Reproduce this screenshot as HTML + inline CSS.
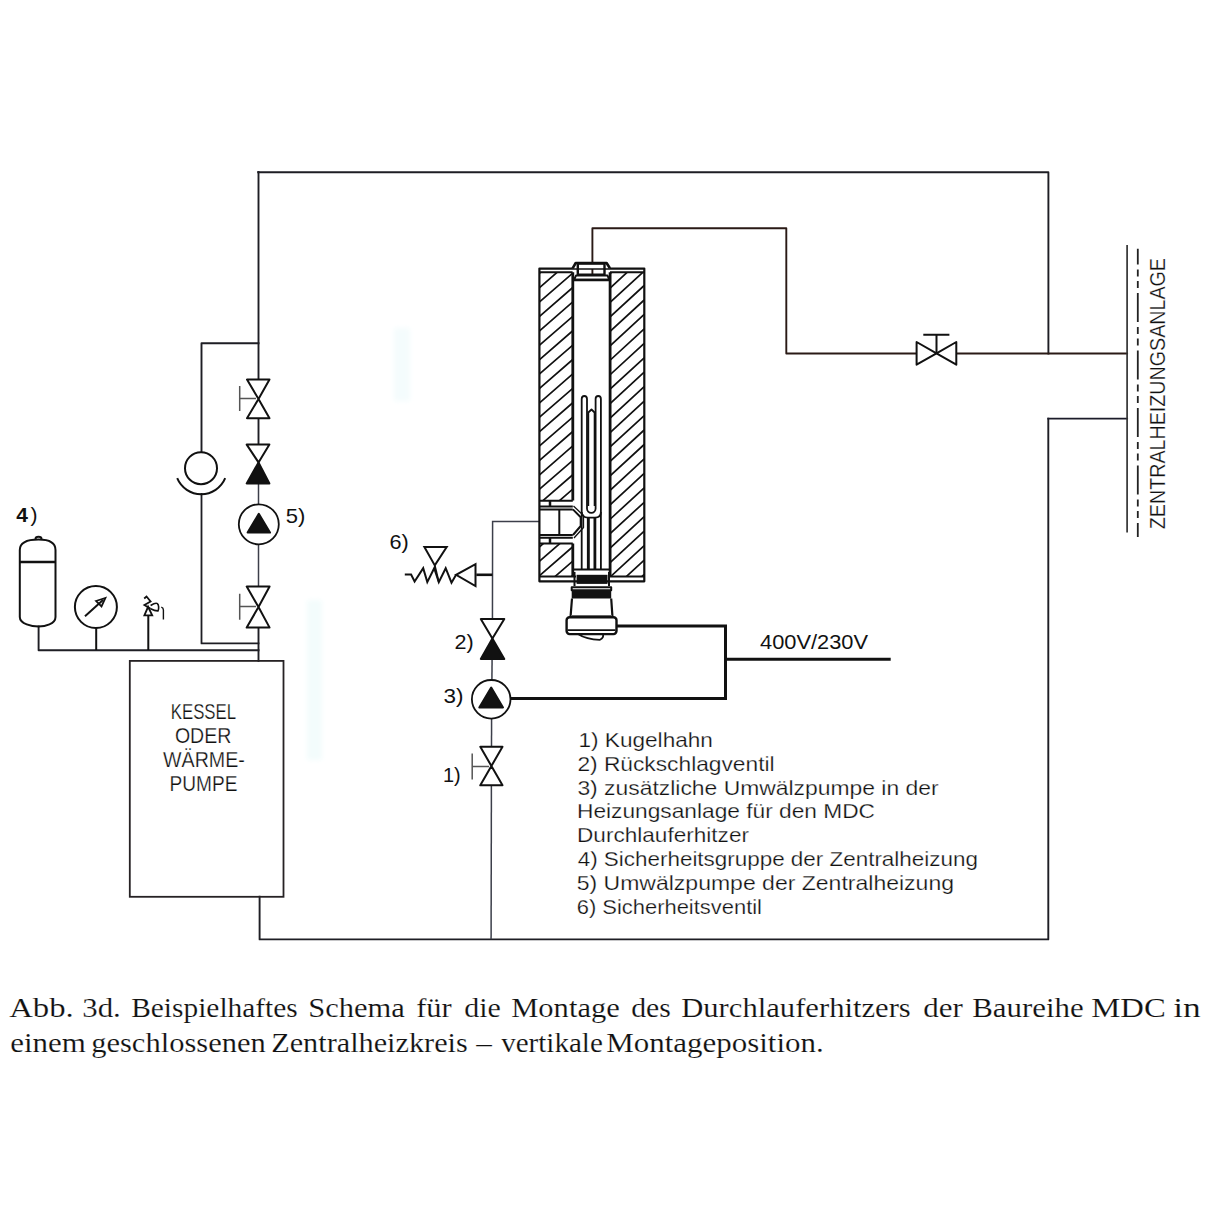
<!DOCTYPE html>
<html><head><meta charset="utf-8">
<style>
html,body{margin:0;padding:0;background:#fff;}
svg{display:block;}
text{font-family:"Liberation Sans",sans-serif;fill:#111;}
.sf{font-family:"Liberation Serif",serif;}
</style></head><body>
<svg width="1214" height="1214" viewBox="0 0 1214 1214">
<defs>
<pattern id="hatchL" patternUnits="userSpaceOnUse" width="14.6" height="14.6" patternTransform="translate(572.8,386.3) rotate(-45)">
<line x1="0" y1="0" x2="30" y2="0" stroke="#111" stroke-width="2.4"/>
</pattern>
</defs>
<rect width="1214" height="1214" fill="#fff"/>
<filter id="bl" x="-50%" y="-20%" width="200%" height="140%"><feGaussianBlur stdDeviation="2.5"/></filter>
<rect x="307" y="600" width="15" height="160" fill="#f3fcfc" filter="url(#bl)"/>
<rect x="394" y="328" width="16" height="73" fill="#f4fcfd" filter="url(#bl)"/>

<!-- ===== main piping ===== -->
<g fill="none" stroke="#1e1e24" stroke-width="1.9" stroke-linecap="square" stroke-linejoin="round">
<path d="M258.2,172.3 L1048.4,172.2 V353.5"/>
<path d="M1048.3,418.6 V939.4 H259.6 V896.8"/>
<path d="M258.5,172 V379.6"/>
<path d="M258.5,418.2 V444.6"/>
<path d="M258.5,627.6 V660.9"/>
<!-- bypass -->
<path d="M258.5,343.3 H201.5 V452"/>
<path d="M201.5,494 V643.4 H258.5" stroke-width="1.8"/>
<path d="M38.6,626.5 V650.2 H258.5"/>
<!-- right side -->
<path d="M592.4,274.7 V228.2 H786.3 V353.5 H916.6" stroke="#2a1a16"/>
<path d="M956.3,353.5 H1127.1" stroke="#2a1a16"/>
<path d="M1048.3,418.6 H1127.1" stroke="#1c1c2a"/>
</g>
<g fill="none" stroke="#3c3f4a" stroke-width="1.5">
<path d="M258.5,483.5 V504.2"/>
<path d="M258.5,544.5 V586.5"/>
<path d="M492.45,619 L492.6,521.4 H539.9"/>
<path d="M492.1,658.9 L491.9,680"/>
<path d="M491.6,718.6 L491.5,746.8"/>
<path d="M491.4,785.3 L491.1,939.3"/>
</g>

<!-- ===== left column valves ===== -->
<g fill="#fff" stroke="#111" stroke-width="2" stroke-linejoin="round">
<!-- ball valve top -->
<path d="M247,379.6 H269.5 L258.5,399 Z M247,418.2 H269.5 L258.5,399 Z"/>
<!-- check valve -->
<path d="M246.7,444.6 H269.4 L258.5,462.4 Z"/>
<path d="M246.7,483.5 H269.4 L258.5,462.4 Z" fill="#111"/>
<!-- pump 5 -->
<circle cx="258.8" cy="524.3" r="20" stroke-width="1.8"/>
<path d="M258.8,513.8 L270,532.6 H247.6 Z" fill="#111"/>
<!-- ball valve lower -->
<path d="M246.7,586.5 H269.6 L258.5,607 Z M246.7,627.6 H269.6 L258.5,607 Z"/>
</g>
<g fill="none" stroke="#555" stroke-width="1.5">
<path d="M239.7,386 V411 M239.7,398.4 H256"/>
<path d="M239.7,593.7 V619.8 M239.7,606.6 H256"/>
</g>
<!-- thermometer circle + arc -->
<g fill="none" stroke="#111" stroke-width="2">
<circle cx="201" cy="468.2" r="16"/>
<path d="M177.2,478.2 A26,26 0 0 0 225.2,478.2"/>
</g>

<!-- ===== expansion tank group ===== -->
<g fill="none" stroke="#111" stroke-width="2">
<path d="M19.8,617 V550 C19.8,540 32,539.5 38.6,539.5 C45,539.5 55.5,540 55.5,550 V617 C55.5,624 45,626.5 38.6,626.5 C32,626.5 19.8,624 19.8,617 Z"/>
<path d="M19.8,562 H55.5" stroke-width="2.4"/>
<path d="M35.5,539 C35.5,536 41.5,536 41.5,539"/>
<circle cx="95.9" cy="607" r="21"/>
<path d="M96.2,628 V650"/>
<path d="M85,616.2 L103,600"/>
<path d="M96,601 L105.4,598 L101.5,606.5 Z" stroke-width="1.8"/>
<path d="M148.3,650 V616"/>
<path d="M144.4,615.4 H152.2 L148.1,606.8 Z" stroke-width="1.8"/>
<path d="M144.2,598.5 L146.5,596.5 L150.6,601.4 L144.4,605.1 L150.6,608.8" stroke-width="1.8"/>
<path d="M150.6,605.5 C153,604 156,602.5 157.2,603.5 C159,604.5 159,609 158,610.9 C156,611 152,609.5 150.6,608.8" stroke-width="1.6"/>
<path d="M161.3,607.2 C163,607.8 163.4,608.8 163.4,610 V619.5" stroke-width="1.4"/>
</g>

<!-- ===== boiler ===== -->
<rect x="129.8" y="660.9" width="153.7" height="235.9" fill="none" stroke="#262224" stroke-width="1.8"/>

<!-- labels -->
<text x="16.3" y="522.3" font-size="21" font-weight="bold">4</text><text x="30.4" y="522.4" font-size="21">)</text>
<text x="285.8" y="522.7" font-size="21" textLength="19.6" lengthAdjust="spacingAndGlyphs">5)</text>
<text x="389.5" y="549.2" font-size="21" textLength="19.3" lengthAdjust="spacingAndGlyphs">6)</text>
<text x="454.5" y="649" font-size="21" textLength="19.2" lengthAdjust="spacingAndGlyphs">2)</text>
<text x="443.4" y="702.5" font-size="21" textLength="20" lengthAdjust="spacingAndGlyphs">3)</text>
<text x="443" y="782" font-size="21" textLength="17.7" lengthAdjust="spacingAndGlyphs">1)</text>
<text x="760" y="649" font-size="21" textLength="108" lengthAdjust="spacingAndGlyphs">400V/230V</text>

<g font-size="21.5" stroke="#fff" stroke-width="0.25">
<text x="170.8" y="719.1" textLength="65.2" lengthAdjust="spacingAndGlyphs">KESSEL</text>
<text x="174.9" y="743" textLength="56.5" lengthAdjust="spacingAndGlyphs">ODER</text>
<text x="163" y="766.9" textLength="81.8" lengthAdjust="spacingAndGlyphs">WÄRME-</text>
<text x="169.5" y="790.7" textLength="67.9" lengthAdjust="spacingAndGlyphs">PUMPE</text>
</g>

<!-- ===== heater ===== -->
<defs>
<clipPath id="cwl"><path d="M539.5,272.5 H572.8 V500.5 H539.5 Z M539.5,543.5 H572.8 V576.3 H539.5 Z"/></clipPath>
<clipPath id="cwr"><path d="M610.1,272.5 H644.2 V576.3 H610.1 Z"/></clipPath>
</defs>
<g fill="none" stroke="#111" stroke-linejoin="round">
<path clip-path="url(#cwl)" d="M539.3,273.4L572.8,244.3M539.3,287.8L572.8,258.7M539.3,302.2L572.8,273.1M539.3,316.6L572.8,287.5M539.3,331.0L572.8,301.9M539.3,345.4L572.8,316.3M539.3,359.8L572.8,330.7M539.3,374.2L572.8,345.1M539.3,388.6L572.8,359.5M539.3,403.0L572.8,373.9M539.3,417.4L572.8,388.3M539.3,431.8L572.8,402.7M539.3,446.2L572.8,417.1M539.3,460.6L572.8,431.5M539.3,475.0L572.8,445.9M539.3,489.4L572.8,460.3M539.3,503.8L572.8,474.7M539.3,518.2L572.8,489.1M539.3,532.6L572.8,503.5M539.3,547.0L572.8,517.9M539.3,561.4L572.8,532.3M539.3,575.8L572.8,546.7M539.3,590.2L572.8,561.1M539.3,604.6L572.8,575.5" stroke-width="1.7"/>
<path clip-path="url(#cwr)" d="M610.1,273.6L644.2,242.2M610.1,288.0L644.2,256.6M610.1,302.4L644.2,271.1M610.1,316.9L644.2,285.5M610.1,331.4L644.2,300.0M610.1,345.8L644.2,314.4M610.1,360.2L644.2,328.9M610.1,374.7L644.2,343.3M610.1,389.1L644.2,357.8M610.1,403.6L644.2,372.2M610.1,418.0L644.2,386.7M610.1,432.5L644.2,401.1M610.1,446.9L644.2,415.6M610.1,461.4L644.2,430.0M610.1,475.9L644.2,444.5M610.1,490.3L644.2,458.9M610.1,504.8L644.2,473.4M610.1,519.2L644.2,487.8M610.1,533.6L644.2,502.3M610.1,548.1L644.2,516.7M610.1,562.5L644.2,531.2M610.1,577.0L644.2,545.6M610.1,591.5L644.2,560.1M610.1,605.9L644.2,574.5" stroke-width="1.7"/>
<rect x="539.4" y="268.6" width="104.9" height="312.7" stroke-width="2.2"/>
<path d="M539.4,272.3 H572.6 M610,272.3 H644.3" stroke-width="2"/>
<path d="M572.8,272.3 V500.5 M572.8,543.5 V576.5 M610.1,272.3 V576.5" stroke-width="2.8"/>
<path d="M539.4,576.5 H576 M608,576.5 H644.3" stroke-width="2"/>
<path d="M572.6,268.3 L575.7,263 H606.6 L609.9,268.3" stroke-width="2.6" fill="#fff"/>
<rect x="577.8" y="263.6" width="26.7" height="11.2" stroke-width="2.4"/>
<path d="M574,279.7 L576,275.6 H607.5 L609.3,279.7 Z" stroke-width="2"/>
<path d="M572.8,280 H610.1" stroke-width="2.6"/>
<path d="M539.4,500.7 H572.8 M539.4,506.5 H572.8 M539.4,509.4 H572.8" stroke-width="2"/>
<path d="M550,500.7 V506.5" stroke-width="2.5"/>
<path d="M539.4,534.9 H572.8 M539.4,537.8 H572.8 M539.4,543.5 H572.8" stroke-width="2"/>
<path d="M550,537.8 V543.5" stroke-width="2.5"/>
<path d="M559.3,509.4 V534.9" stroke-width="2"/>
<path d="M572.9,509.4 L580.7,517.2 V526 L573,535" stroke-width="2"/>
<path d="M573.5,506 L583.5,515.5 V527.5 L574,538" stroke-width="1.3"/>
<!-- element -->
<path d="M581.7,569 V399 A2.65,3 0 0 1 587,399 V508.5 A4.3,4.3 0 0 0 595.6,508.5 V399 A2.65,3 0 0 1 600.9,399 V569" stroke-width="1.8"/>
<path d="M588.3,506 V412.5 L591.5,409.5 L594.6,412.5 V506" stroke-width="1.8"/>
<path d="M581.7,512 Q582,517.6 588,517.6 H595 Q600.9,517.6 600.9,512" stroke-width="1.8"/>
<path d="M587.7,518 V569 M589,518 V569 M594.3,518 V569 M595.5,518 V569" stroke-width="1.6"/>
<!-- bottom -->
<path d="M572.8,569.5 H610.1" stroke-width="2"/>
<rect x="576.6" y="574.8" width="30.9" height="9.1" fill="#111" stroke="none"/>
<path d="M574.5,572 V586 M609,572 V586" stroke-width="2"/>
<rect x="571.7" y="587.2" width="39.5" height="3" stroke-width="2"/>
<rect x="571.7" y="590" width="39.5" height="8.5" fill="#111" stroke="none"/>
<path d="M572,598.5 L570.5,617.3 M611.2,598.5 L612.5,617.3" stroke-width="2.2"/>
<path d="M571,615.5 H612" stroke-width="1.2" stroke="#666"/>
<rect x="566.6" y="617.3" width="49.9" height="16.8" rx="3" stroke-width="2.4"/>
<path d="M567.5,630.2 H615.5" stroke-width="1.8"/>
<path d="M578.5,634.3 Q586,639.5 600,639.8 Q604,638 603,634.3" stroke-width="1.8"/>
</g>

<!-- power cables -->
<g fill="none" stroke="#111" stroke-width="3">
<path d="M616.5,625.9 H725.5 V698.6 H510.5"/>
<path d="M725.5,659.3 H890.7"/>
</g>
<!-- safety valve 6 -->
<g fill="none" stroke="#111" stroke-width="2" stroke-linejoin="miter">
<path d="M476.3,574.8 H492.4" stroke-width="2.6"/>
<path d="M475.5,564.2 V586.1 L456.1,574.8 Z" fill="#fff"/>
<path d="M404.8,574.6 H411.1 L414.6,581.5 L423.2,568.2 L427.3,582.1 L434.2,568.2 L438.8,582.1 L445.7,568.2 L451.5,582.7 L456.1,574.8"/>
<path d="M424.4,547.1 H446.7 L434.8,565.4 Z"/>
<path d="M434.8,565.4 L438.8,582.1" stroke-width="1.8"/>
</g>
<!-- middle branch valves -->
<g fill="#fff" stroke="#111" stroke-width="2" stroke-linejoin="round">
<path d="M480.8,619 H504.3 L492.4,638.5 Z"/>
<path d="M480.8,658.9 H504.3 L492.4,638.5 Z" fill="#111"/>
<circle cx="491.2" cy="699.3" r="19.3" stroke-width="1.8"/>
<path d="M491.2,687.5 L503,707.5 H479.3 Z" fill="#111"/>
<path d="M480.3,746.8 H502.5 L491.4,766 Z M480.3,785.3 H502.5 L491.4,766 Z"/>
</g>
<g fill="none" stroke="#555" stroke-width="1.5">
<path d="M472.2,753.5 V779.4 M472.2,766.5 H489"/>
</g>

<!-- right valve -->
<g fill="#fff" stroke="#111" stroke-width="2" stroke-linejoin="round">
<path d="M916.6,342 V364.7 L936.5,353.4 Z M956.3,342 V364.7 L936.5,353.4 Z"/>
</g>
<path d="M936.5,353.4 V334.8 M923.3,334.8 H949.4" fill="none" stroke="#111" stroke-width="2"/>

<!-- system bar -->
<path d="M1127.1,244.9 V532.5" stroke="#333" stroke-width="1.7" fill="none"/>
<path d="M1137.8,248.8 V537.1" stroke="#222" stroke-width="1.8" fill="none" stroke-dasharray="29 5 7 4.5 7 5" stroke-dashoffset="13.2"/>
<text transform="translate(1164.7,529.2) rotate(-90)" font-size="22.5" stroke="#fff" stroke-width="0.25" textLength="271.2" lengthAdjust="spacingAndGlyphs">ZENTRALHEIZUNGSANLAGE</text>

<!-- legend -->
<g id="legend" font-size="21" stroke="#fff" stroke-width="0.25">
<text x="578.5" y="746.60" textLength="134.4" lengthAdjust="spacingAndGlyphs">1) Kugelhahn</text>
<text x="577.4" y="770.55" textLength="197.2" lengthAdjust="spacingAndGlyphs">2) Rückschlagventil</text>
<text x="577.4" y="794.50" textLength="361.2" lengthAdjust="spacingAndGlyphs">3) zusätzliche Umwälzpumpe in der</text>
<text x="577" y="818.45" textLength="298" lengthAdjust="spacingAndGlyphs">Heizungsanlage für den MDC</text>
<text x="577" y="842.40" textLength="172" lengthAdjust="spacingAndGlyphs">Durchlauferhitzer</text>
<text x="577.7" y="866.35" textLength="400.2" lengthAdjust="spacingAndGlyphs">4) Sicherheitsgruppe der Zentralheizung</text>
<text x="576.7" y="890.30" textLength="377.3" lengthAdjust="spacingAndGlyphs">5) Umwälzpumpe der Zentralheizung</text>
<text x="576.7" y="914.25" textLength="185.3" lengthAdjust="spacingAndGlyphs">6) Sicherheitsventil</text>
</g>

<!-- caption -->
<g id="caption" font-size="27.5" stroke="#fff" stroke-width="0.15">
<text class="sf" x="9.20" y="1017.2" textLength="64.60" lengthAdjust="spacingAndGlyphs">Abb.</text>
<text class="sf" x="82.20" y="1017.2" textLength="38.60" lengthAdjust="spacingAndGlyphs">3d.</text>
<text class="sf" x="131.20" y="1017.2" textLength="166.60" lengthAdjust="spacingAndGlyphs">Beispielhaftes</text>
<text class="sf" x="308.20" y="1017.2" textLength="96.60" lengthAdjust="spacingAndGlyphs">Schema</text>
<text class="sf" x="416.20" y="1017.2" textLength="35.60" lengthAdjust="spacingAndGlyphs">für</text>
<text class="sf" x="464.20" y="1017.2" textLength="36.60" lengthAdjust="spacingAndGlyphs">die</text>
<text class="sf" x="511.20" y="1017.2" textLength="108.60" lengthAdjust="spacingAndGlyphs">Montage</text>
<text class="sf" x="631.20" y="1017.2" textLength="39.60" lengthAdjust="spacingAndGlyphs">des</text>
<text class="sf" x="681.20" y="1017.2" textLength="229.60" lengthAdjust="spacingAndGlyphs">Durchlauferhitzers</text>
<text class="sf" x="923.20" y="1017.2" textLength="39.60" lengthAdjust="spacingAndGlyphs">der</text>
<text class="sf" x="972.20" y="1017.2" textLength="111.60" lengthAdjust="spacingAndGlyphs">Baureihe</text>
<text class="sf" x="1091.20" y="1017.2" textLength="74.60" lengthAdjust="spacingAndGlyphs">MDC</text>
<text class="sf" x="1173.20" y="1017.2" textLength="27.60" lengthAdjust="spacingAndGlyphs">in</text>
<text class="sf" x="10.20" y="1051.8" textLength="75.60" lengthAdjust="spacingAndGlyphs">einem</text>
<text class="sf" x="91.20" y="1051.8" textLength="174.60" lengthAdjust="spacingAndGlyphs">geschlossenen</text>
<text class="sf" x="271.20" y="1051.8" textLength="196.60" lengthAdjust="spacingAndGlyphs">Zentralheizkreis</text>
<text class="sf" x="476.20" y="1051.8" textLength="15.60" lengthAdjust="spacingAndGlyphs">–</text>
<text class="sf" x="501.20" y="1051.8" textLength="101.60" lengthAdjust="spacingAndGlyphs">vertikale</text>
<text class="sf" x="606.20" y="1051.8" textLength="217.60" lengthAdjust="spacingAndGlyphs">Montageposition.</text>
</g>

</svg>
</body></html>
